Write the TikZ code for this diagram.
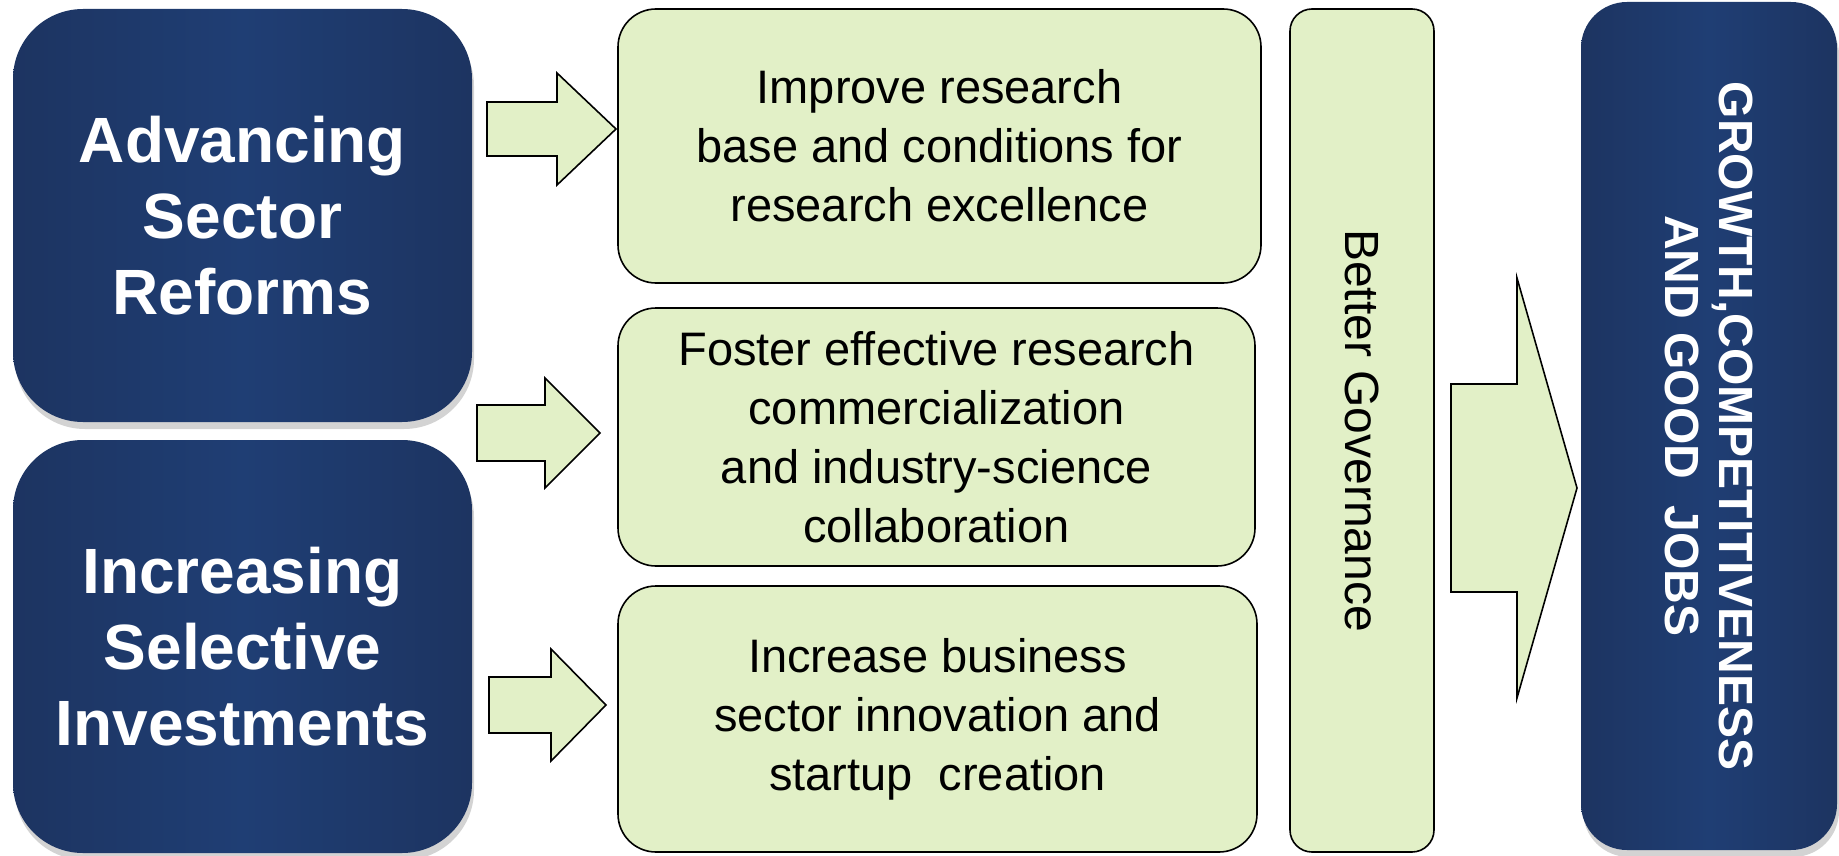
\documentclass[tikz,border=0pt]{standalone}
\usepackage{fontspec}
\setmainfont{Liberation Sans}
\usetikzlibrary{positioning}
\usetikzlibrary{shadows}

\definecolor{navyedge}{RGB}{29,52,97}
\definecolor{navymid}{RGB}{31,62,116}
\definecolor{leaf}{RGB}{226,240,199}

% block arrow: start x, neck x, tip x, centre y, shaft half, head half
\newcommand{\blockarrow}[6]{%
  \draw[fatarrow] (#1,#4-#5) -- (#2,#4-#5) -- (#2,#4-#6) -- (#3,#4)
    -- (#2,#4+#6) -- (#2,#4+#5) -- (#1,#4+#5) -- cycle;}

\tikzset{
  navybox/.style={draw=none, left color=navyedge, right color=navyedge, middle color=navymid,
    drop shadow={shadow xshift=2pt, shadow yshift=-7pt, opacity=0.35}},
  pillar/.style={navybox, rounded corners=70pt, text=white, align=center,
    font=\bfseries\fontsize{64}{76}\selectfont},
  leafbox/.style={draw=black, line width=1.6pt, fill=leaf, rounded corners=38pt,
    align=center, font=\fontsize{47}{59}\selectfont},
  fatarrow/.style={draw=black, line width=1.6pt, fill=leaf, line join=miter}
}

\begin{document}
\begin{tikzpicture}[x=1pt,y=-1pt]
  \useasboundingbox (0,0) rectangle (1839,856);

  % left pillars
  \node[pillar, minimum width=459, minimum height=413] (reform) at (242.5,215.5)
       {Advancing\\Sector\\Reforms};
  \node[pillar, minimum width=459, minimum height=413] (invest) at (242.5,646.5)
       {Increasing\\Selective\\Investments};

  % objectives
  \node[leafbox, minimum width=643, minimum height=274] (excel) at (939.5,146)
       {Improve research\\base and conditions for\\research excellence};
  \node[leafbox, minimum width=637, minimum height=258] (collab) at (936.5,437)
       {Foster effective research\\commercialization\\and industry-science\\collaboration};
  \node[leafbox, minimum width=639, minimum height=266] (startup) at (937.5,719)
       {Increase business\\sector innovation and\\startup\ \ creation};

  % governance bar
  \node[leafbox, rounded corners=22pt, minimum width=144, minimum height=843] (gov) at (1362,430.5) {};
  \node[rotate=-90, font=\fontsize{48}{56}\selectfont] (govtext) at (gov.center) {Better Governance};

  % outcome
  \node[navybox, rounded corners=46pt, minimum width=256, minimum height=848] (goal) at (1709,426) {};
  \node[rotate=-90, text=white, align=center, font=\bfseries\fontsize{48}{54}\selectfont]
       (goaltext) at (goal.center) {GROWTH,COMPETITIVENESS\\AND GOOD\ \ JOBS};

  % arrows
  \blockarrow{487}{557}{616}{129}{27}{56}
  \blockarrow{477}{545}{600}{433}{28}{55}
  \blockarrow{489}{551}{606}{705}{28}{56}
  \blockarrow{1451}{1517}{1577}{488}{104}{210}
\end{tikzpicture}
\end{document}
